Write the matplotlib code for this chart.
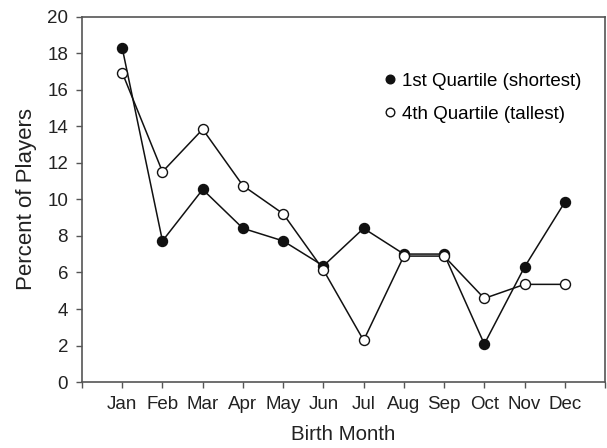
import matplotlib
matplotlib.use("Agg")
import matplotlib.pyplot as plt
from matplotlib.lines import Line2D

plt.rcParams['font.family'] = ['Liberation Sans', 'DejaVu Sans']

months = ["Jan", "Feb", "Mar", "Apr", "May", "Jun", "Jul", "Aug", "Sep", "Oct", "Nov", "Dec"]
q1_shortest = [18.3, 7.73, 10.55, 8.42, 7.73, 6.36, 8.42, 7.01, 7.01, 2.08, 6.30, 9.85]
q4_tallest = [16.95, 11.52, 13.85, 10.76, 9.22, 6.14, 2.28, 6.90, 6.90, 4.58, 5.35, 5.35]
series_labels = ['1st Quartile (shortest)', '4th Quartile (tallest)']
yticks = [0, 2, 4, 6, 8, 10, 12, 14, 16, 18, 20]

fig = plt.figure(figsize=(6.07, 4.48), dpi=100)
ax = fig.add_axes([82 / 607, 66 / 448, 523 / 607, 365 / 448])

x = list(range(1, len(months) + 1))
ax.plot(x, q1_shortest, color='#111111', lw=1.1, marker='o', ms=7.2,
        mfc='#111111', mec='#111111', zorder=3)
ax.plot(x, q4_tallest, color='#111111', lw=1.1, marker='o', ms=7.2,
        mfc='white', mec='#111111', mew=1.0, zorder=3)

ax.set_xlim(0, 13)
ax.set_ylim(0, 20)
ax.set_xticks(range(0, 14))
ax.set_xticklabels([""] + months + [""])
ax.set_yticks(yticks)
ax.tick_params(axis='both', colors='#555555', labelcolor='#222222', labelsize=13.5,
               length=4, width=1.0, direction='out')
ax.tick_params(axis='y', pad=6)
ax.tick_params(axis='x', pad=6)
for s in ax.spines.values():
    s.set_color('#555555')
    s.set_linewidth(1.2)

ax.set_xlabel('Birth Month', fontsize=14.8, color='#222222', labelpad=9)
ax.set_ylabel('Percent of Players', fontsize=16, color='#222222', labelpad=7)

handles = [
    Line2D([], [], linestyle='none', marker='o', ms=6.2, mfc='#111111', mec='#111111'),
    Line2D([], [], linestyle='none', marker='o', ms=6.2, mfc='white', mec='#111111', mew=1.0),
]
ax.legend(handles, series_labels, loc='upper left', bbox_to_anchor=(0.578, 0.848),
          frameon=False, fontsize=13.5, handlelength=0.6, handletextpad=0.35,
          labelspacing=0.85, borderpad=0, borderaxespad=0)

fig.savefig('out.png', dpi=100)
